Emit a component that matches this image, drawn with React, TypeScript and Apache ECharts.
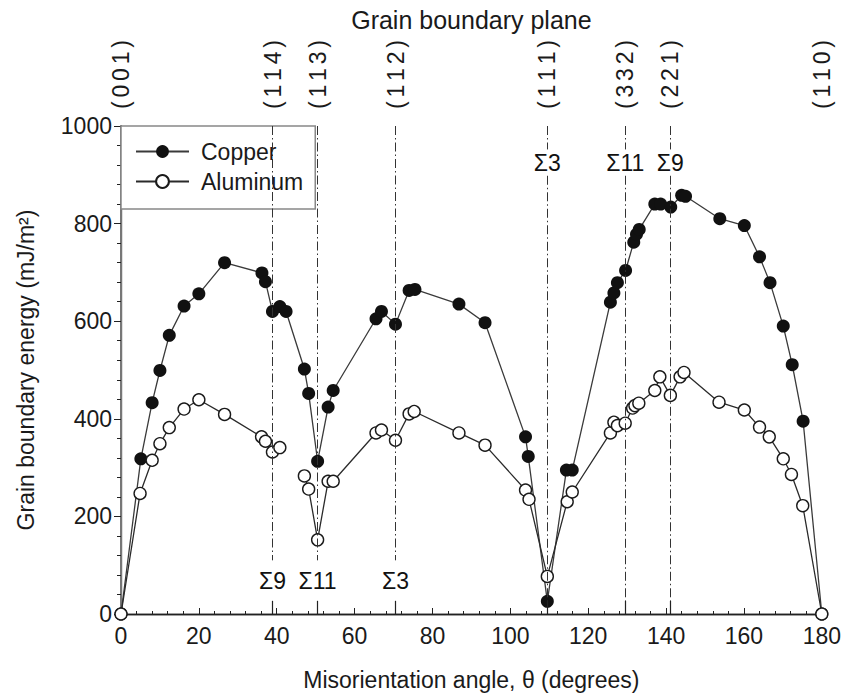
import React, { useEffect, useRef } from "react";
import * as echarts from "echarts";

// Grain boundary planes (top axis) and special boundaries
const planeAngles = [0, 38.94, 50.48, 70.53, 109.47, 129.52, 141.06, 180];
const planeLabels = ["(001)", "(114)", "(113)", "(112)", "(111)", "(332)", "(221)", "(110)"];
const sigmaAngles = [38.94, 50.48, 70.53, 109.47, 129.52, 141.06];
const sigmaLabels = ["Σ9", "Σ11", "Σ3", "Σ3", "Σ11", "Σ9"];
const sigmaLabelEnergy = [67, 67, 67, 924, 924, 924];
// gap in the dash-dot guide line around each label (energy units)
const sigmaGapHigh = [110, 110, 110, 952, 952, 952];
const sigmaGapLow = [27, 27, 27, 898, 898, 898];
const solidTickTop = 27;

// Copper
const copperAngle = [0, 5.1, 8.0, 10.0, 12.4, 16.2, 20.0, 26.6, 36.2, 37.1, 38.9, 40.8, 42.4, 47.1, 48.2, 50.5, 53.2, 54.5, 65.5, 66.9, 70.5, 74.0, 75.5, 86.8, 93.5, 103.9, 104.6, 109.5, 114.4, 115.9, 125.7, 126.6, 127.5, 129.6, 131.7, 132.4, 133.1, 137.1, 138.6, 141.2, 144.0, 145.0, 153.8, 160.1, 164.0, 166.7, 170.1, 172.4, 175.2, 180];
const copperEnergy = [0, 318, 433, 499, 571, 631, 656, 720, 699, 681, 620, 630, 620, 502, 452, 313, 424, 458, 605, 620, 594, 663, 665, 635, 597, 363, 323, 26, 295, 295, 639, 658, 679, 704, 762, 778, 788, 840, 840, 834, 858, 856, 810, 796, 732, 679, 590, 511, 395, 0];

// Aluminum (two connected runs)
const alAngleA = [0, 4.9, 8.0, 10.0, 12.4, 16.2, 20.0, 26.6, 36.1, 37.1, 38.9, 40.8];
const alEnergyA = [0, 247, 315, 349, 382, 420, 439, 409, 363, 354, 332, 341];
const alAngleB = [47.1, 48.2, 50.5, 53.2, 54.5, 65.5, 66.9, 70.5, 74.0, 75.3, 86.8, 93.5, 103.9, 104.8, 109.5, 114.6, 115.9, 125.7, 126.6, 127.5, 129.5, 131.4, 132.0, 133.0, 137.1, 138.4, 141.1, 143.6, 144.6, 153.6, 160.1, 164.0, 166.5, 170.1, 172.2, 175.1, 180];
const alEnergyB = [283, 256, 152, 272, 272, 371, 377, 356, 410, 415, 371, 346, 254, 235, 77, 230, 250, 371, 393, 386, 391, 422, 427, 432, 458, 486, 448, 486, 495, 434, 418, 383, 363, 318, 286, 222, 0];

const FONT = '"Liberation Sans", Arial, Helvetica, sans-serif';
const TXT = "#1a1a1a";
const SPACED = "\u2006";

export default function App() {
  const ref = useRef<HTMLDivElement>(null);
  useEffect(() => {
    if (!ref.current) return;
    const chart = echarts.init(ref.current, undefined, { renderer: "svg" });

    const copperData = copperAngle.map((a, i) => [a, copperEnergy[i]]);
    const alData: any[] = [
      ...alAngleA.map((a, i) => [a, alEnergyA[i]]),
      ["-", "-"],
      ...alAngleB.map((a, i) => [a, alEnergyB[i]]),
    ];

    const dashStyle = { type: [9, 3, 1.5, 3], color: "#333", width: 1 };
    const solidStyle = { type: "solid", color: "#222", width: 1.2 };
    const markLines: any[] = [];
    sigmaAngles.forEach((a, i) => {
      markLines.push([{ coord: [a, 1000], lineStyle: dashStyle }, { coord: [a, sigmaGapHigh[i]] }]);
      if (sigmaLabelEnergy[i] > 500) {
        markLines.push([{ coord: [a, sigmaGapLow[i]], lineStyle: dashStyle }, { coord: [a, solidTickTop] }]);
      }
      markLines.push([{ coord: [a, solidTickTop], lineStyle: solidStyle }, { coord: [a, 0] }]);
    });

    const option: any = {
      animation: false,
      backgroundColor: "#fff",
      textStyle: { fontFamily: FONT, color: TXT },
      grid: { left: 121, right: 22, top: 126, bottom: 80, containLabel: false },
      legend: {
        data: ["Copper", "Aluminum"],
        orient: "vertical",
        left: 121,
        top: 126,
        itemWidth: 53,
        itemHeight: 16,
        itemGap: 7,
        padding: [14, 12, 16, 14],
        backgroundColor: "#fff",
        borderColor: "#888",
        borderWidth: 1.5,
        borderRadius: 0,
        textStyle: { fontSize: 23, color: TXT, fontFamily: FONT, padding: [0, 0, 0, 7] },
      },
      xAxis: [
        {
          type: "value",
          position: "bottom",
          min: 0,
          max: 180,
          interval: 20,
          name: "Misorientation angle, θ (degrees)",
          nameLocation: "middle",
          nameGap: 54,
          nameTextStyle: { fontSize: 23, color: TXT, fontFamily: FONT },
          axisLine: { show: true, lineStyle: { color: "#222", width: 1.3 } },
          axisTick: { show: true, inside: true, length: 6, lineStyle: { color: "#222", width: 1 } },
          minorTick: { show: true, splitNumber: 5, length: 3, lineStyle: { color: "#222", width: 1 } },
          axisLabel: { fontSize: 23, color: TXT, fontFamily: FONT, margin: 10, formatter: (v: number) => String(v) },
          splitLine: { show: false },
          minorSplitLine: { show: false },
        },
        {
          type: "value",
          position: "top",
          min: 0,
          max: 180,
          name: "Grain boundary plane",
          nameLocation: "middle",
          nameGap: 94,
          nameTextStyle: { fontSize: 25, color: TXT, fontFamily: FONT },
          axisLine: { show: true, lineStyle: { color: "#222", width: 1.3 } },
          axisTick: { show: true, inside: false, length: 6, customValues: planeAngles, lineStyle: { color: "#222", width: 1 } },
          axisLabel: {
            show: true,
            rotate: 90,
            margin: 17,
            fontSize: 23,
            color: TXT,
            fontFamily: FONT,
            customValues: planeAngles,
            formatter: (v: number) => {
              const idx = planeAngles.findIndex((p) => Math.abs(p - v) < 0.01);
              return idx >= 0 ? planeLabels[idx].split("").join(SPACED) : "";
            },
          },
          splitLine: { show: false },
        },
      ],
      yAxis: [
        {
          type: "value",
          position: "left",
          min: 0,
          max: 1000,
          interval: 200,
          name: "Grain boundary energy (mJ/m²)",
          nameLocation: "middle",
          nameGap: 84,
          nameTextStyle: { fontSize: 23, color: TXT, fontFamily: FONT },
          axisLine: { show: true, lineStyle: { color: "#222", width: 1.3 } },
          axisTick: { show: true, inside: false, length: 7, lineStyle: { color: "#222", width: 1 } },
          minorTick: { show: true, splitNumber: 5, length: 4, lineStyle: { color: "#222", width: 1 } },
          axisLabel: { fontSize: 23, color: TXT, fontFamily: FONT, margin: 9, formatter: (v: number) => String(v) },
          splitLine: { show: false },
          minorSplitLine: { show: false },
        },
        {
          type: "value",
          position: "right",
          min: 0,
          max: 1000,
          axisLine: { show: true, lineStyle: { color: "#777", width: 2 } },
          axisTick: { show: false },
          axisLabel: { show: false },
          splitLine: { show: false },
        },
      ],
      series: [
        {
          name: "guides",
          type: "line",
          data: [],
          silent: true,
          markLine: {
            silent: true,
            symbol: ["none", "none"],
            label: { show: false },
            lineStyle: dashStyle,
            data: markLines,
          },
        },
        {
          name: "Copper",
          type: "line",
          data: copperData,
          symbol: "circle",
          symbolSize: 13,
          showAllSymbol: true,
          lineStyle: { color: "#3a3a3a", width: 1.3 },
          itemStyle: { color: "#111", borderColor: "#111", borderWidth: 0 },
          z: 3,
        },
        {
          name: "Aluminum",
          type: "line",
          data: alData,
          connectNulls: false,
          symbol: "circle",
          symbolSize: 12,
          showAllSymbol: true,
          lineStyle: { color: "#2a2a2a", width: 1.3 },
          itemStyle: { color: "#fff", borderColor: "#1a1a1a", borderWidth: 1.4 },
          z: 4,
        },
        {
          name: "sigma",
          type: "scatter",
          silent: true,
          symbolSize: 1,
          itemStyle: { color: "#fff", opacity: 1 },
          data: sigmaAngles.map((a, i) => ({ value: [a, sigmaLabelEnergy[i]], name: sigmaLabels[i] })),
          label: {
            show: true,
            position: "inside",
            formatter: (p: any) => p.name,
            fontSize: 23,
            color: "#111",
            textBorderWidth: 0,
            textBorderColor: "transparent",
            opacity: 1,
            fontFamily: FONT,
          },
          z: 5,
        },
      ],
    };
    chart.setOption(option);
    return () => chart.dispose();
  }, []);
  return (
    <div
      ref={ref}
      style={{ position: "fixed", left: 0, top: 0, width: 844, height: 696, background: "#fff" }}
    />
  );
}
